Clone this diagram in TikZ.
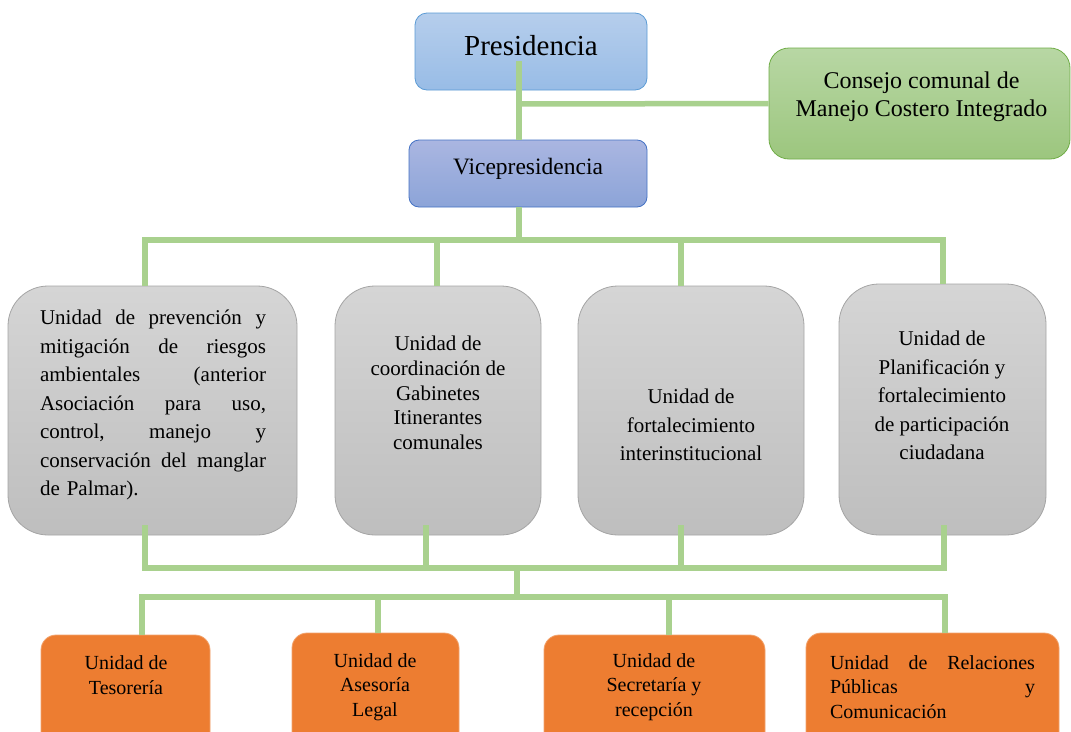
\documentclass[tikz,border=0pt]{standalone}
\usepackage{fontspec}
\setmainfont{Liberation Serif}
\newcommand{\jline}[2]{\leavevmode\hbox to #1{#2}}
\begin{document}
\begin{tikzpicture}[x=1pt,y=-1pt]
\definecolor{lineg}{RGB}{169,209,142}
\definecolor{grayT}{RGB}{213,213,213}
\definecolor{grayB}{RGB}{190,190,190}
\definecolor{grayD}{RGB}{165,165,165}
\definecolor{presT}{RGB}{182,206,236}
\definecolor{presB}{RGB}{152,188,230}
\definecolor{presD}{RGB}{91,155,213}
\definecolor{viceT}{RGB}{170,182,225}
\definecolor{viceB}{RGB}{140,164,216}
\definecolor{viceD}{RGB}{68,114,196}
\definecolor{consT}{RGB}{184,215,164}
\definecolor{consB}{RGB}{156,198,126}
\definecolor{consD}{RGB}{112,173,71}
\definecolor{orangeF}{RGB}{237,125,49}
\tikzset{
  boxbase/.style={rectangle, inner sep=0pt},
  graybox/.style={boxbase, rounded corners=40pt, top color=grayT, bottom color=grayB, draw=grayD, line width=0.8pt, minimum height=249pt},
  orangebox/.style={boxbase, rounded corners=15pt, fill=orangeF, draw=orangeF!70!white, line width=0.8pt, minimum height=125pt},
  conn/.style={draw=lineg, line width=5.5pt, line cap=rect},
  txt/.style={inner sep=0pt, font=\fontsize{21}{28.5}\selectfont, align=center},
  otxt/.style={inner sep=0pt, font=\fontsize{20}{24.5}\selectfont, align=center},
}
\useasboundingbox (0,0) rectangle (1071,731);
\clip (0,0) rectangle (1071,731);
\fill[white] (0,0) rectangle (1071,731);

% boxes
\node[boxbase, rounded corners=12pt, top color=presT, bottom color=presB, draw=presD, line width=0.8pt, minimum width=232pt, minimum height=77pt] (pres) at (531,51.5) {};
\node[boxbase, rounded corners=20pt, top color=consT, bottom color=consB, draw=consD, line width=0.8pt, minimum width=301pt, minimum height=111pt] (cons) at (919.5,103.5) {};
\node[boxbase, rounded corners=10pt, top color=viceT, bottom color=viceB, draw=viceD, line width=0.8pt, minimum width=238pt, minimum height=67pt] (vice) at (528,173.5) {};

\node[graybox, minimum width=289pt] (g1) at (152.5,410.5) {};
\node[graybox, minimum width=206pt] (g2) at (438,410.5) {};
\node[graybox, minimum width=226pt] (g3) at (691,410.5) {};
\node[graybox, minimum width=207pt, minimum height=251pt] (g4) at (942.5,409.5) {};

\node[orangebox, minimum width=169pt] (o1) at (125.5,697.5) {};
\node[orangebox, minimum width=167pt] (o2) at (375.5,695.5) {};
\node[orangebox, minimum width=221pt] (o3) at (654.5,697.5) {};
\node[orangebox, minimum width=253pt] (o4) at (932.5,695.5) {};

% texts
\node[inner sep=0pt, font=\fontsize{29}{34}\selectfont] (presT) at (531,46) {Presidencia};
\node[inner sep=0pt, font=\fontsize{23.5}{28}\selectfont] (viceT) at (528,169) {Vicepresidencia};
\node[inner sep=0pt, font=\fontsize{24}{28}\selectfont, align=center] (consT) at (921.5,97) {Consejo comunal de\\Manejo Costero Integrado};

\node[txt, text width=226pt, align=left] (g1T) at (153,405) {%
\jline{226pt}{Unidad\hfill de\hfill prevención\hfill y}\\
\jline{226pt}{mitigación\hfill de\hfill riesgos}\\
\jline{226pt}{ambientales\hfill (anterior}\\
\jline{226pt}{Asociación\hfill para\hfill uso,}\\
\jline{226pt}{control,\hfill manejo\hfill y}\\
\jline{226pt}{conservación\hfill del\hfill manglar}\\
de Palmar).};
\node[txt, font=\fontsize{21}{24.8}\selectfont] (g2T) at (438,393) {Unidad de\\coordinación de\\Gabinetes\\Itinerantes\\comunales};
\node[txt] (g3T) at (691,425) {Unidad de\\fortalecimiento\\interinstitucional};
\node[txt] (g4T) at (942,395.5) {Unidad de\\Planificación y\\fortalecimiento\\de participación\\ciudadana};

\node[otxt] (o1T) at (126,675) {Unidad de\\Tesorería};
\node[otxt] (o2T) at (375,687) {Unidad de\\Asesoría\\Legal};
\node[otxt] (o3T) at (654,687) {Unidad de\\Secretaría y\\recepción};
\node[otxt, text width=205pt, align=left] (o4T) at (932.5,687) {%
\jline{205pt}{Unidad\hfill de\hfill Relaciones}\\
\jline{205pt}{Públicas\hfill y}\\
Comunicación};

% junction coordinates
\coordinate (p1) at (519,61);
\coordinate (b1) at (519,104);
\coordinate (v1) at (519,240);
\coordinate (t1) at (145,240);
\coordinate (t2) at (437,240);
\coordinate (t3) at (681,240);
\coordinate (t4) at (943,240);
\coordinate (u1) at (145,525);
\coordinate (u2) at (426,525);
\coordinate (u3) at (681,525);
\coordinate (u4) at (944,525);
\coordinate (m1) at (145,568);
\coordinate (m4) at (944,568);
\coordinate (mc) at (517,568);
\coordinate (n0) at (517,597);
\coordinate (n1) at (142,597);
\coordinate (n2) at (378,597);
\coordinate (n3) at (669,597);
\coordinate (n4) at (945,597);

% connectors
\draw[conn, line cap=butt] (p1) -- (p1 |- vice.north);
\draw[conn, line cap=butt] (b1) -- (cons.west);
\draw[conn, line cap=butt] (v1 |- vice.south) -- (v1);
\draw[conn] (t1) -- (t4);
\draw[conn, line cap=butt] (t1) -- (t1 |- g1.north);
\draw[conn, line cap=butt] (t2) -- (t2 |- g2.north);
\draw[conn, line cap=butt] (t3) -- (t3 |- g3.north);
\draw[conn, line cap=butt] (t4) -- (t4 |- g4.north);
\draw[conn, line cap=butt] (u1) -- (m1);
\draw[conn, line cap=butt] (u2) -- (u2 |- m1);
\draw[conn, line cap=butt] (u3) -- (u3 |- m1);
\draw[conn, line cap=butt] (u4) -- (m4);
\draw[conn] (m1) -- (m4);
\draw[conn, line cap=butt] (mc) -- (n0);
\draw[conn] (n1) -- (n4);
\draw[conn, line cap=butt] (n1) -- (n1 |- o1.north);
\draw[conn, line cap=butt] (n2) -- (n2 |- o2.north);
\draw[conn, line cap=butt] (n3) -- (n3 |- o3.north);
\draw[conn, line cap=butt] (n4) -- (n4 |- o4.north);
\end{tikzpicture}
\end{document}
